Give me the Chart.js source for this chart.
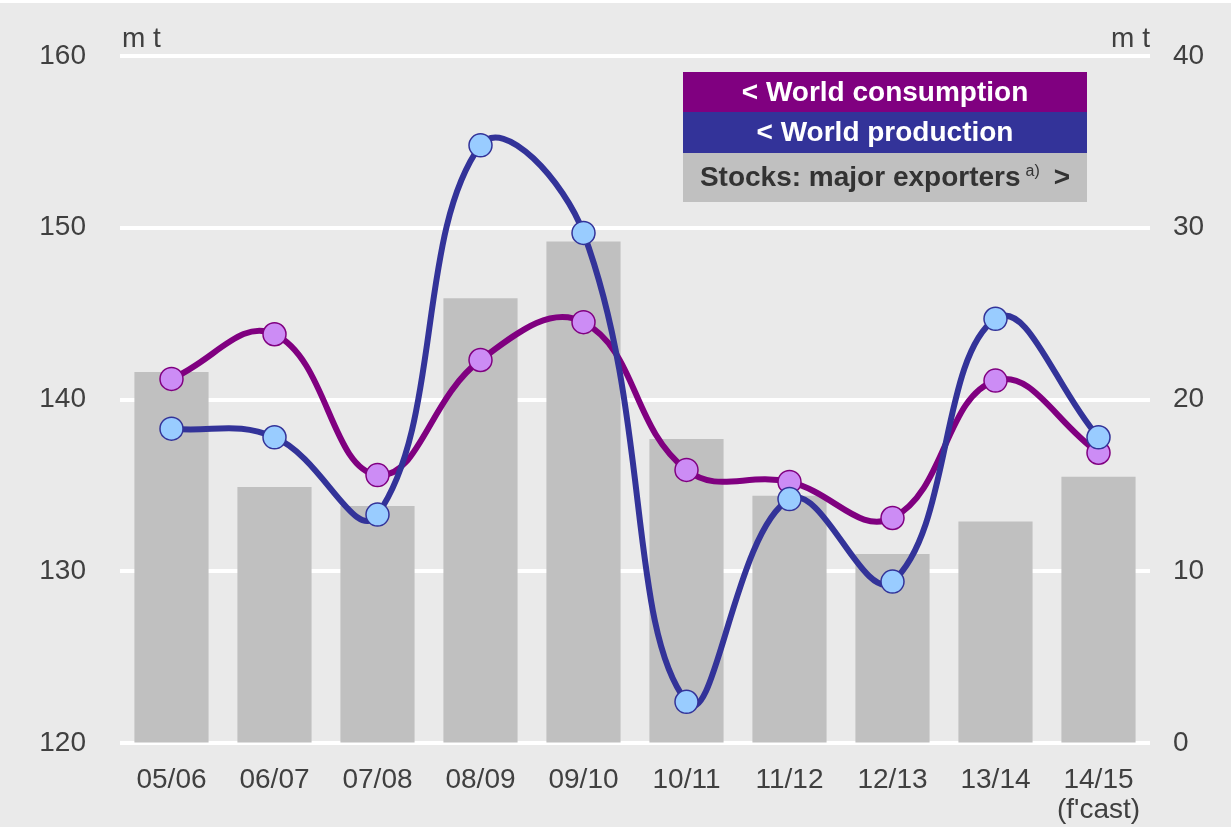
<!DOCTYPE html>
<html>
<head>
<meta charset="utf-8">
<script src="https://cdn.jsdelivr.net/npm/chart.js@4"></script>
<style>
  html, body { margin: 0; padding: 0; background: #eaeaea; }
  #wrap { width: 1231px; height: 827px; position: relative; }
</style>
</head>
<body>
<div id="wrap"><canvas id="sugarChart" width="1231" height="827"></canvas></div>
<script>
let labels = ["05/06", "06/07", "07/08", "08/09", "09/10", "10/11", "11/12", "12/13", "13/14", ["14/15", "(f'cast)"]];
let consumption = [141.2, 143.8, 135.6, 142.3, 144.5, 135.9, 135.2, 133.1, 141.1, 136.9];
let production = [138.3, 137.8, 133.3, 154.8, 149.7, 122.4, 134.2, 129.4, 144.7, 137.8];
let stocks = [21.6, 14.9, 13.8, 25.9, 29.2, 17.7, 14.4, 11.0, 12.9, 15.5];

let leftTicks = [120, 130, 140, 150, 160];
let rightTicks = [0, 10, 20, 30, 40];
let unitLabel = "m t";

const textColor = "#404040";
const fontFamily = "'Liberation Sans', Arial, sans-serif";

// background, "m t" labels and the stacked legend box
const decorPlugin = {
  id: "decor",
  beforeDraw(chart) {
    const c = chart.ctx;
    c.save();
    c.fillStyle = "#eaeaea";
    c.fillRect(0, 0, chart.width, chart.height);
    c.fillStyle = "#ffffff";
    c.fillRect(0, 0, chart.width, 3);
    c.restore();
  },
  afterDraw(chart) {
    const c = chart.ctx;
    const a = chart.chartArea;
    c.save();
    c.fillStyle = textColor;
    c.font = "28px " + fontFamily;
    c.textBaseline = "alphabetic";
    c.textAlign = "left";
    c.fillText(unitLabel, a.left + 2, a.top - 9);
    c.textAlign = "right";
    c.fillText(unitLabel, a.right, a.top - 9);

    // legend
    let rows = [
      { text: "< World consumption", bg: "#800080", fg: "#ffffff", y: 72, h: 40 },
      { text: "< World production", bg: "#333399", fg: "#ffffff", y: 112, h: 41 },
      { text: "Stocks: major exporters", bg: "#c0c0c0", fg: "#333333", y: 153, h: 49 }
    ];
    let x0 = 683, x1 = 1087;
    let big = "bold 28px " + fontFamily;
    let small = "16px " + fontFamily;
    c.textAlign = "center";
    c.textBaseline = "middle";
    rows.forEach((r, i) => {
      c.fillStyle = r.bg;
      c.fillRect(x0, r.y, x1 - x0, r.h);
      c.fillStyle = r.fg;
      c.font = big;
      if (i < 2) {
        c.fillText(r.text, (x0 + x1) / 2, r.y + r.h / 2 + 1);
      } else {
        c.textAlign = "left";
        let w = c.measureText(r.text).width;
        c.font = small;
        let wSup = c.measureText("a)").width;
        c.font = big;
        let wArr = c.measureText(">").width;
        let total = w + 5 + wSup + 14 + wArr;
        let sx = (x0 + x1) / 2 - total / 2;
        let cy = r.y + r.h / 2 + 1;
        c.fillText(r.text, sx, cy);
        c.font = small;
        c.fillText("a)", sx + w + 5, cy - 7);
        c.font = big;
        c.fillText(">", sx + w + 5 + wSup + 14, cy);
      }
    });
    c.restore();
  }
};

let ctx = document.getElementById("sugarChart").getContext("2d");

let myChart = new Chart(ctx, {
  type: "bar",
  data: {
    labels: labels,
    datasets: [
      {
        label: "World production",
        type: "line",
        data: production,
        yAxisID: "y1",
        borderColor: "#333399",
        borderWidth: 6,
        tension: 0.42,
        pointRadius: 11.5,
        pointBackgroundColor: "#99ccff",
        pointBorderColor: "#333399",
        pointBorderWidth: 1.5,
        order: 0
      },
      {
        label: "World consumption",
        type: "line",
        data: consumption,
        yAxisID: "y1",
        borderColor: "#800080",
        borderWidth: 6,
        tension: 0.42,
        pointRadius: 11.5,
        pointBackgroundColor: "#cc8cf5",
        pointBorderColor: "#800080",
        pointBorderWidth: 1.5,
        order: 1
      },
      {
        label: "Stocks: major exporters",
        type: "bar",
        data: stocks,
        yAxisID: "y2",
        backgroundColor: "#c0c0c0",
        barPercentage: 0.72,
        categoryPercentage: 1.0,
        order: 2
      }
    ]
  },
  options: {
    responsive: false,
    animation: false,
    events: [],
    layout: { padding: { top: 56, left: 0, right: 0, bottom: 0 } },
    plugins: {
      legend: { display: false },
      tooltip: { enabled: false }
    },
    scales: {
      x: {
        offset: true,
        grid: { display: false },
        border: { display: false },
        ticks: {
          color: textColor,
          font: { family: fontFamily, size: 28, lineHeight: 1.08 },
          padding: 14,
          maxRotation: 0,
          autoSkip: false
        },
        afterFit(scale) { scale.height = 84; }
      },
      y1: {
        type: "linear",
        position: "left",
        min: leftTicks[0],
        max: leftTicks[leftTicks.length - 1],
        afterBuildTicks(scale) { scale.ticks = leftTicks.map(v => ({ value: v })); },
        grid: { color: "#ffffff", lineWidth: 4, drawTicks: false },
        border: { display: false },
        ticks: {
          color: textColor,
          font: { family: fontFamily, size: 28 },
          padding: 34
        },
        afterFit(scale) { scale.width = 120; }
      },
      y2: {
        type: "linear",
        position: "right",
        min: rightTicks[0],
        max: rightTicks[rightTicks.length - 1],
        afterBuildTicks(scale) { scale.ticks = rightTicks.map(v => ({ value: v })); },
        grid: { drawOnChartArea: false, drawTicks: false },
        border: { display: false },
        ticks: {
          color: textColor,
          font: { family: fontFamily, size: 28 },
          padding: 23
        },
        afterFit(scale) { scale.width = 81; }
      }
    }
  },
  plugins: [decorPlugin]
});
</script>
</body>
</html>
